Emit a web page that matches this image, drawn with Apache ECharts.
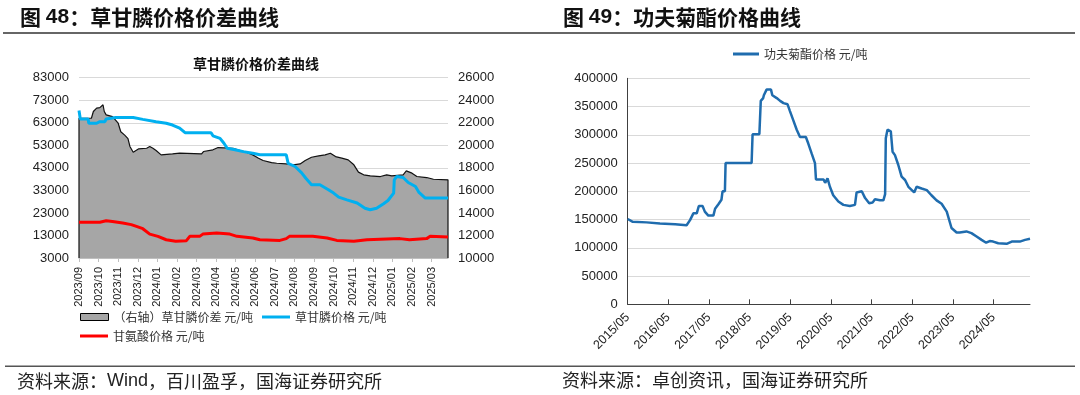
<!DOCTYPE html>
<html><head><meta charset="utf-8">
<script src="https://cdn.jsdelivr.net/npm/echarts@6/dist/echarts.min.js"></script>
<style>html,body{margin:0;padding:0;background:#fff;}#c{width:1080px;height:395px;}</style>
</head><body><div id="c"></div>
<script>
// ---------- DATA ----------
const leftTickLabels = ['2023/09','2023/10','2023/11','2023/12','2024/01','2024/02','2024/03','2024/04','2024/05','2024/06','2024/07','2024/08','2024/09','2024/10','2024/11','2024/12','2025/01','2025/02','2025/03'];
const rightTickLabels = ['2015/05','2016/05','2017/05','2018/05','2019/05','2020/05','2021/05','2022/05','2023/05','2024/05'];

const glyphosateDates = ['2023-09-01','2023-09-03','2023-09-15','2023-09-16','2023-09-28','2023-10-03','2023-10-11','2023-10-13','2023-10-28','2023-11-24','2023-12-09','2023-12-30','2024-01-15','2024-01-25','2024-02-05','2024-02-13','2024-03-24','2024-03-27','2024-04-07','2024-04-13','2024-04-18','2024-04-30','2024-05-13','2024-05-28','2024-06-08','2024-07-19','2024-07-22','2024-08-02','2024-08-12','2024-08-19','2024-08-28','2024-09-10','2024-09-23','2024-10-01','2024-10-09','2024-10-22','2024-11-07','2024-11-19','2024-11-27','2024-12-07','2024-12-18','2024-12-25','2025-01-03','2025-01-04','2025-01-08','2025-01-18','2025-01-26','2025-02-06','2025-02-11','2025-02-20','2025-03-27'];
const glyphosatePrice = [68400,64700,64700,62800,62800,63500,63500,64700,65300,65300,64500,63500,62800,62000,60600,58600,58600,57200,56100,53900,51700,51000,50200,49500,48800,48800,45000,43600,40900,38400,35500,35500,33300,31800,30000,28800,27400,25100,24400,25100,27100,28500,31800,37700,39200,38700,36500,34700,32100,29600,29600];

const glycineDates = ['2023-09-01','2023-10-03','2023-10-13','2023-10-23','2023-11-08','2023-11-21','2023-11-29','2023-12-09','2023-12-20','2024-01-02','2024-01-15','2024-01-30','2024-02-15','2024-02-20','2024-03-06','2024-03-11','2024-04-02','2024-04-22','2024-05-03','2024-05-28','2024-06-08','2024-07-09','2024-07-19','2024-07-24','2024-08-30','2024-09-21','2024-10-06','2024-11-02','2024-11-22','2025-01-13','2025-01-28','2025-02-22','2025-02-27','2025-03-27'];
const glycinePrice = [18900,18900,19500,19200,18500,17800,17000,16000,13600,12600,11100,10400,10700,12600,12600,13600,14100,13600,12600,11900,11100,10800,11600,12600,12600,11900,10800,10400,11100,11600,11100,11600,12600,12300];

const spreadDates = ['2023-09-01','2023-09-20','2023-09-23','2023-09-28','2023-10-03','2023-10-08','2023-10-10','2023-10-13','2023-10-23','2023-11-01','2023-11-05','2023-11-11','2023-11-16','2023-11-19','2023-11-24','2023-12-02','2023-12-15','2023-12-20','2023-12-25','2023-12-30','2024-01-07','2024-01-25','2024-02-05','2024-03-09','2024-03-12','2024-03-27','2024-04-04','2024-04-27','2024-05-08','2024-05-18','2024-05-28','2024-06-06','2024-06-13','2024-06-26','2024-07-04','2024-07-19','2024-07-30','2024-08-10','2024-08-18','2024-08-28','2024-09-08','2024-09-18','2024-09-26','2024-10-04','2024-10-14','2024-10-24','2024-11-02','2024-11-09','2024-11-17','2024-11-27','2024-12-13','2024-12-23','2024-12-31','2025-01-18','2025-01-23','2025-02-01','2025-02-08','2025-02-22','2025-03-04','2025-03-27'];
const spreadValue = [22400,22400,23000,23300,23340,23600,23000,22700,22550,21960,21200,20900,20600,19900,19390,19680,19740,19890,19740,19540,19150,19240,19300,19240,19450,19600,19800,19740,19540,19390,19150,18860,18650,18470,18410,18350,18270,18350,18650,18940,19060,19150,19300,19000,18860,18710,18270,17620,17380,17290,17230,17380,17290,17380,17730,17530,17230,17140,16990,16940];

const cyhaloDates = ['2015-05-01','2015-06-16','2015-10-19','2016-02-16','2016-05-16','2016-07-01','2016-10-13','2016-10-28','2016-11-13','2016-12-13','2017-01-13','2017-02-01','2017-03-04','2017-03-25','2017-04-25','2017-06-10','2017-06-25','2017-07-25','2017-08-22','2017-09-01','2017-09-22','2017-09-28','2018-05-19','2018-05-28','2018-07-28','2018-08-10','2018-09-01','2018-09-07','2018-10-01','2018-11-10','2018-11-22','2019-01-01','2019-02-01','2019-03-01','2019-04-07','2019-04-28','2019-05-28','2019-06-28','2019-07-28','2019-09-19','2019-10-10','2019-11-10','2019-12-10','2019-12-19','2020-02-25','2020-03-10','2020-04-01','2020-04-22','2020-05-22','2020-07-07','2020-08-22','2020-10-19','2020-12-04','2020-12-19','2021-02-04','2021-03-04','2021-04-10','2021-05-10','2021-06-01','2021-07-16','2021-08-16','2021-09-01','2021-09-07','2021-09-22','2021-10-22','2021-11-07','2021-11-28','2021-12-28','2022-01-28','2022-02-26','2022-03-28','2022-05-19','2022-06-10','2022-07-25','2022-09-10','2022-10-22','2022-12-07','2023-01-22','2023-03-07','2023-04-19','2023-06-04','2023-07-01','2023-07-19','2023-09-01','2023-10-16','2023-12-01','2024-01-16','2024-02-25','2024-03-28','2024-04-28','2024-06-13','2024-08-28','2024-10-13','2024-12-25','2025-02-10','2025-03-25'];
const cyhaloPrice = [151000,146000,145000,143000,142000,141500,140000,140000,149000,161000,161000,174000,174000,164000,157000,157000,169000,177000,185000,200000,200000,250000,250000,301000,301000,360000,365000,370000,380000,380000,370000,365000,360000,356000,354000,342000,326000,309000,296000,296000,285000,267000,250000,221000,221000,215000,223000,208000,193000,182000,176000,174000,176000,198000,200000,188000,179000,180000,186000,184000,184000,195000,294000,309000,306000,270000,264000,247000,226000,220000,208000,198000,208000,205000,202000,193000,184000,178000,164000,135000,127000,127000,129000,129000,126000,120000,114000,109000,112000,111000,108000,107000,111000,111000,114000,116000];

const leftStart = '2023-09-01', leftEnd = '2025-03-27';
const rightStart = '2015-05-01', rightEnd = '2025-03-25';

const nameSpread = '（右轴）草甘膦价差 元/吨';
const nameGlyphosate = '草甘膦价格 元/吨';
const nameGlycine = '甘氨酸价格 元/吨';
const nameCyhalo = '功夫菊酯价格 元/吨';

// ---------- HELPERS ----------
function monthsFrom(base, d) {
  const [by, bm] = base.split('-').map(Number);
  const [y, m, dd] = d.split('-').map(Number);
  const dim = new Date(y, m, 0).getDate();
  return (y - by) * 12 + (m - bm) + (dd - 1) / dim;
}
function pairs(base, dates, vals) {
  const n = Math.min(dates.length, vals.length);
  const out = [];
  for (let i = 0; i < n; i++) out.push([monthsFrom(base, dates[i]), vals[i]]);
  return out;
}
const leftMax = monthsFrom(leftStart, leftEnd);
const rightMax = monthsFrom(rightStart, rightEnd);
const leftAxisMin = 3000, leftAxisMax = 83000, leftAxisStep = 10000;
const spreadAxisMin = 10000, spreadAxisMax = 26000, spreadAxisStep = 2000;

const spreadPts = pairs(leftStart, spreadDates, spreadValue);
const spreadData = [[spreadPts[0][0], spreadAxisMin]].concat(spreadPts, [[spreadPts[spreadPts.length-1][0], spreadAxisMin]]);

const NUM = 'Liberation Sans, Arial, sans-serif';
const CJK = '"Noto Sans CJK SC", sans-serif';
const plain = v => String(v);
const legendText = {fontFamily: CJK, fontSize: 12, color: '#333'};

const chart = echarts.init(document.getElementById('c'), null, {renderer: 'canvas'});
chart.setOption({
  animation: false,
  backgroundColor: '#fff',
  grid: [
    {left: 79, top: 77.7, width: 369, height: 180.3, outerBoundsMode: 'none', containLabel: false},
    {left: 627.7, top: 78.3, width: 402.3, height: 226, outerBoundsMode: 'none', containLabel: false}
  ],
  legend: [
    {left: 80, top: 311, padding: 0, itemWidth: 28, itemHeight: 7, textStyle: legendText,
     data: [{name: nameSpread, icon: 'rect', itemStyle: {color: '#a6a6a6', borderColor: '#000', borderWidth: 1}}]},
    {left: 262, top: 311, padding: 0, itemWidth: 28, itemHeight: 3, textStyle: legendText,
     data: [{name: nameGlyphosate, icon: 'rect'}]},
    {left: 80, top: 330, padding: 0, itemWidth: 28, itemHeight: 3, textStyle: legendText,
     data: [{name: nameGlycine, icon: 'rect'}]},
    {left: 733, top: 48, padding: 0, itemWidth: 26, itemHeight: 3, textStyle: legendText,
     data: [{name: nameCyhalo, icon: 'rect'}]}
  ],
  xAxis: [
    {
      type: 'value', gridIndex: 0, min: 0, max: leftMax,
      axisLine: {show: true, lineStyle: {color: '#bfbfbf'}},
      axisTick: {show: true, length: 4, lineStyle: {color: '#bfbfbf'}, customValues: leftTickLabels.map((_, i) => i)},
      axisLabel: {
        rotate: 90, fontSize: 11, fontFamily: NUM, color: '#222', margin: 9,
        customValues: leftTickLabels.map((_, i) => i),
        formatter: v => leftTickLabels[Math.round(v)] || ''
      },
      splitLine: {show: false}
    },
    {
      type: 'value', gridIndex: 1, min: 0, max: rightMax,
      axisLine: {show: true, lineStyle: {color: '#404040'}},
      axisTick: {show: true, inside: true, length: 5, lineStyle: {color: '#404040'}, customValues: rightTickLabels.map((_, i) => i * 12)},
      axisLabel: {
        rotate: 45, fontSize: 12.5, fontFamily: NUM, color: '#222', margin: 11,
        customValues: rightTickLabels.map((_, i) => i * 12),
        formatter: v => rightTickLabels[Math.round(v / 12)] || ''
      },
      splitLine: {show: false}
    }
  ],
  yAxis: [
    {
      type: 'value', gridIndex: 0, position: 'left', min: leftAxisMin, max: leftAxisMax, interval: leftAxisStep,
      axisLine: {show: false}, axisTick: {show: false},
      axisLabel: {fontSize: 13, fontFamily: NUM, color: '#222', margin: 10, formatter: plain},
      splitLine: {show: true, lineStyle: {color: '#d9d9d9', width: 1}}
    },
    {
      type: 'value', gridIndex: 0, position: 'right', min: spreadAxisMin, max: spreadAxisMax, interval: spreadAxisStep,
      axisLine: {show: false}, axisTick: {show: false},
      axisLabel: {fontSize: 13, fontFamily: NUM, color: '#222', margin: 10, formatter: plain},
      splitLine: {show: false}
    },
    {
      type: 'value', gridIndex: 1, min: 0, max: 400000, interval: 50000,
      axisLine: {show: true, lineStyle: {color: '#404040'}}, axisTick: {show: false},
      axisLabel: {fontSize: 13, fontFamily: NUM, color: '#222', margin: 10, formatter: plain},
      splitLine: {show: true, lineStyle: {color: '#d9d9d9', width: 1}}
    }
  ],
  series: [
    {
      name: nameSpread, type: 'line', xAxisIndex: 0, yAxisIndex: 1, data: spreadData,
      symbol: 'none', showSymbol: false, z: 1,
      lineStyle: {color: '#111', width: 1.2}, itemStyle: {color: '#a6a6a6'},
      areaStyle: {color: '#a6a6a6', opacity: 1, origin: 'start'}
    },
    {
      name: nameGlyphosate, type: 'line', xAxisIndex: 0, yAxisIndex: 0,
      data: pairs(leftStart, glyphosateDates, glyphosatePrice),
      symbol: 'none', showSymbol: false, z: 3, lineStyle: {color: '#00b0f0', width: 3}, itemStyle: {color: '#00b0f0'}
    },
    {
      name: nameGlycine, type: 'line', xAxisIndex: 0, yAxisIndex: 0,
      data: pairs(leftStart, glycineDates, glycinePrice),
      symbol: 'none', showSymbol: false, z: 3, lineStyle: {color: '#ff0000', width: 3}, itemStyle: {color: '#ff0000'}
    },
    {
      name: nameCyhalo, type: 'line', xAxisIndex: 1, yAxisIndex: 2,
      data: pairs(rightStart, cyhaloDates, cyhaloPrice),
      symbol: 'none', showSymbol: false, z: 3, lineStyle: {color: '#1f6cae', width: 2.5}, itemStyle: {color: '#1f6cae'}
    }
  ],
  graphic: [
    {type: 'text', left: 20, top: 7, style: {
      text: '{a|图 }{b|48}{a|：草甘膦价格价差曲线}',
      rich: {a: {fontFamily: CJK, fontSize: 21, fill: '#111', fontWeight: 'bold'}, b: {fontFamily: NUM, fontSize: 21, fontWeight: 'bold', fill: '#111'}}
    }},
    {type: 'text', left: 563, top: 7, style: {
      text: '{a|图 }{b|49}{a|：功夫菊酯价格曲线}',
      rich: {a: {fontFamily: CJK, fontSize: 21, fill: '#111', fontWeight: 'bold'}, b: {fontFamily: NUM, fontSize: 21, fontWeight: 'bold', fill: '#111'}}
    }},
    {type: 'rect', shape: {x: 3, y: 32, width: 1072, height: 2}, style: {fill: '#666'}},
    {type: 'text', x: 256, y: 64, style: {text: '草甘膦价格价差曲线', fontFamily: CJK, fontSize: 14, fontWeight: 'bold', fill: '#111', align: 'center', verticalAlign: 'middle'}},
    {type: 'rect', shape: {x: 5, y: 365.5, width: 1070, height: 1.5}, style: {fill: '#555'}},
    {type: 'text', x: 17, y: 381, style: {
      text: '{a|资料来源：}{b|Wind}{a|，百川盈孚，国海证券研究所}', verticalAlign: 'middle',
      rich: {a: {fontFamily: CJK, fontSize: 18, fill: '#222'}, b: {fontFamily: NUM, fontSize: 18, fill: '#222'}}
    }},
    {type: 'text', x: 562, y: 380, style: {text: '资料来源：卓创资讯，国海证券研究所', fontFamily: CJK, fontSize: 18, fill: '#222', verticalAlign: 'middle'}}
  ]
});
</script>
</body></html>
